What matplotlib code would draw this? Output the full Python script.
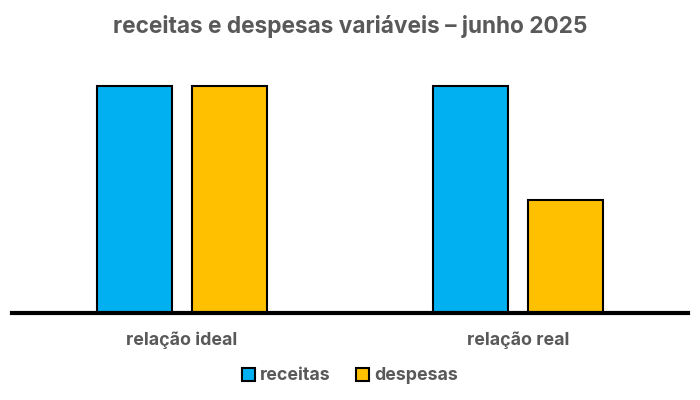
import matplotlib.pyplot as plt
import numpy as np

plt.rcParams['font.family'] = ['Inter', 'DejaVu Sans']

categorias = ["relação ideal", "relação real"]
receitas = [100, 100]
despesas = [100, 50]

cor_receitas = "#00B0F0"
cor_despesas = "#FFC000"
cinza = "#595959"

fig = plt.figure(figsize=(7, 4), dpi=100)
ax = fig.add_axes([12/700, 87/400, 676/700, 253/400])

x = np.arange(len(categorias))
w = 0.223
off = 0.141

ax.bar(x - off, receitas, w, color=cor_receitas, edgecolor="black", linewidth=1.5, label="receitas", zorder=2)
ax.bar(x + off, despesas, w, color=cor_despesas, edgecolor="black", linewidth=1.5, label="despesas", zorder=2)

ax.set_xlim(-0.506, 1.506)
ax.set_ylim(0, 111.5)

for s in ["top", "right", "left"]:
    ax.spines[s].set_visible(False)
ax.spines["bottom"].set_linewidth(3)
ax.spines["bottom"].set_zorder(3)
ax.set_yticks([])
ax.set_xticks(x)
ax.set_xticklabels(categorias, fontsize=12.8, fontweight="bold", color=cinza)
ax.tick_params(axis="x", length=0, pad=13)

fig.text(0.5, 1 - 27/400, "receitas e despesas variáveis – junho 2025",
         ha="center", va="center", fontsize=16.3, fontweight="bold", color=cinza)

fig.legend(loc="center", bbox_to_anchor=(0.5, 1 - 376/400), ncol=2, frameon=False,
           labelcolor=cinza, handlelength=0.75, handleheight=0.75,
           handletextpad=0.3, columnspacing=1.4, prop={"weight": "bold", "size": 12.8})

fig.savefig("out.png", dpi=100)
